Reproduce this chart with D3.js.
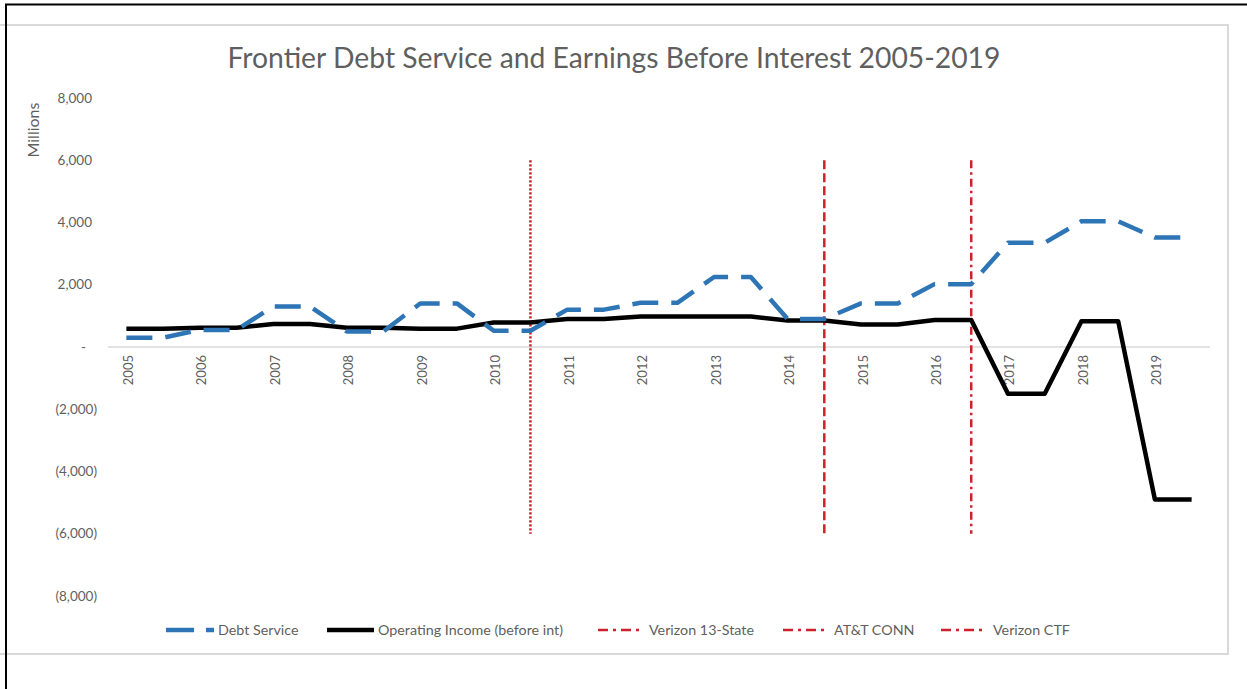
<!DOCTYPE html>
<html>
<head>
<meta charset="utf-8">
<script src="https://cdn.jsdelivr.net/npm/d3@7/dist/d3.min.js"></script>
<style>
  body { margin: 0; background: #fff; }
  svg { display: block; font-family: Lato, "Open Sans", sans-serif; }
</style>
</head>
<body>
<svg id="chart" width="1247" height="689"></svg>
<script>
const years = ["2005","2006","2007","2008","2009","2010","2011","2012","2013","2014","2015","2016","2017","2018","2019"];
// two points per year (first / second half)
const categories = years.flatMap(y => [y + " H1", y + " H2"]);

const debtService = [300,300, 550,550, 1300,1300, 500,500, 1400,1400, 520,520, 1200,1200, 1420,1420,
                     2250,2250, 900,900, 1400,1400, 2020,2020, 3350,3350, 4040,4040, 3520,3520];
const operatingIncome = [590,590, 620,620, 740,740, 620,620, 590,590, 790,790, 900,900, 980,980,
                         980,980, 850,850, 720,720, 870,870, -1500,-1500, 830,830, -4900,-4900];

const events = ["Verizon 13-State", "AT&T CONN", "Verizon CTF"];
const eventCats = ["2010 H2", "2014 H2", "2016 H2"];
const eventRange = [6000, -6000];

const yTicks = [8000, 6000, 4000, 2000, 0, -2000, -4000, -6000, -8000];

const svg = d3.select("#chart");
const textColor = "#5f5f5f";
const red = "#cc2229";
const blue = "#2e75b6";

// frame + chart area border
svg.append("rect").attr("x", -5).attr("y", 25).attr("width", 1233).attr("height", 629)
    .attr("fill", "none").attr("stroke", "#d9d9d9").attr("stroke-width", 2);
svg.append("rect").attr("x", 6).attr("y", 4.5).attr("width", 1260).attr("height", 700)
    .attr("fill", "none").attr("stroke", "#000").attr("stroke-width", 2);

const x = d3.scalePoint().domain(categories).range([108, 1210]).padding(0.5);
const y = d3.scaleLinear().domain([-8000, 8000]).range([596, 98]);

svg.append("text")
    .attr("x", 614).attr("y", 68)
    .attr("text-anchor", "middle")
    .attr("font-size", "28.3px")
    .attr("fill", textColor)
    .text("Frontier Debt Service and Earnings Before Interest 2005-2019");

svg.append("text")
    .attr("transform", "translate(39,130) rotate(-90)")
    .attr("text-anchor", "middle")
    .attr("font-size", "16px")
    .attr("fill", textColor)
    .text("Millions");

// y tick labels, accounting style
const fmt = d3.format(",");
svg.selectAll(".ytick")
    .data(yTicks)
    .enter().append("text")
    .attr("class", "ytick")
    .attr("x", d => d < 0 ? 97 : (d === 0 ? 86 : 92))
    .attr("y", d => y(d) + 4.5)
    .attr("text-anchor", "end")
    .attr("font-size", "13.5px")
    .attr("fill", textColor)
    .text(d => d === 0 ? "-" : (d < 0 ? "(" + fmt(-d) + ")" : fmt(d)));

// zero axis line
svg.append("line")
    .attr("x1", 108).attr("x2", 1210)
    .attr("y1", y(0)).attr("y2", y(0))
    .attr("stroke", "#d9d9d9").attr("stroke-width", 1.5);

// x labels, one per year
svg.selectAll(".xtick")
    .data(categories.filter((c, i) => i % 2 === 0))
    .enter().append("text")
    .attr("class", "xtick")
    .attr("transform", d => `translate(${x(d) + 6.5},${y(0) + 8}) rotate(-90)`)
    .attr("text-anchor", "end")
    .attr("font-size", "13px")
    .attr("fill", textColor)
    .text(d => d.slice(0, 4));

// event markers
const eventDash = ["2.2,1.8", "9,4", "8,4,2.5,4"];
eventCats.forEach((c, i) => {
    svg.append("line")
        .attr("x1", x(c)).attr("x2", x(c))
        .attr("y1", y(eventRange[0])).attr("y2", y(eventRange[1]))
        .attr("stroke", red).attr("stroke-width", 2.5)
        .attr("stroke-dasharray", eventDash[i]);
});

const line = d3.line()
    .x((d, i) => x(categories[i]))
    .y(d => y(d));

svg.append("path")
    .datum(operatingIncome)
    .attr("d", line)
    .attr("fill", "none")
    .attr("stroke", "#000")
    .attr("stroke-width", 4.5)
    .attr("stroke-linejoin", "round");

svg.append("path")
    .datum(debtService)
    .attr("d", line)
    .attr("fill", "none")
    .attr("stroke", blue)
    .attr("stroke-width", 4.5)
    .attr("stroke-linejoin", "round")
    .attr("stroke-dasharray", "26,13");

// legend
const legendY = 630;
const legendItems = [
    { label: "Debt Service", x0: 166, x1: 214, color: blue, width: 4.5, dash: "28,12", textX: 218 },
    { label: "Operating Income (before int)", x0: 327, x1: 374, color: "#000", width: 4.5, dash: null, textX: 378 },
    { label: events[0], x0: 598, x1: 640, color: red, width: 2.5, dash: "10,5,3,5", textX: 649 },
    { label: events[1], x0: 783, x1: 825, color: red, width: 2.5, dash: "10,5,3,5", textX: 834 },
    { label: events[2], x0: 941, x1: 983, color: red, width: 2.5, dash: "10,5,3,5", textX: 993 }
];
legendItems.forEach(item => {
    svg.append("line")
        .attr("x1", item.x0).attr("x2", item.x1)
        .attr("y1", legendY).attr("y2", legendY)
        .attr("stroke", item.color)
        .attr("stroke-width", item.width)
        .attr("stroke-dasharray", item.dash);
    svg.append("text")
        .attr("x", item.textX).attr("y", legendY + 5)
        .attr("font-size", "14.3px")
        .attr("fill", textColor)
        .text(item.label);
});
</script>
</body>
</html>
